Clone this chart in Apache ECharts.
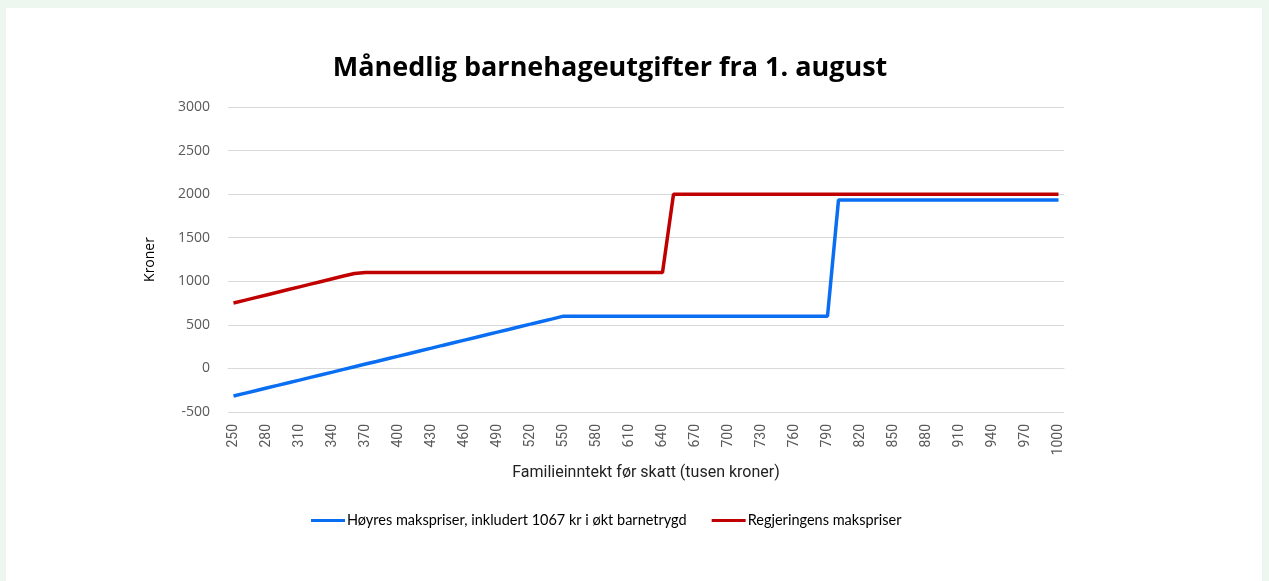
<!DOCTYPE html>
<html>
<head>
<meta charset="utf-8">
<script src="https://cdn.jsdelivr.net/npm/echarts@6/dist/echarts.min.js"></script>
<style>
  html, body { margin: 0; padding: 0; background: #eef6f0; }
  #panel { position: absolute; left: 6px; top: 8px; width: 1256px; height: 573px; background: #fff; }
  #main { position: absolute; left: 0; top: 0; width: 1269px; height: 581px; }
</style>
</head>
<body>
<div id="panel"></div>
<div id="main"></div>
<script type="text/javascript">
// inntekt (tusen kroner), 250 - 1000 i steg på 10
var incomes = ['250','260','270','280','290','300','310','320','330','340',
  '350','360','370','380','390','400','410','420','430','440',
  '450','460','470','480','490','500','510','520','530','540',
  '550','560','570','580','590','600','610','620','630','640',
  '650','660','670','680','690','700','710','720','730','740',
  '750','760','770','780','790','800','810','820','830','840',
  '850','860','870','880','890','900','910','920','930','940',
  '950','960','970','980','990','1000'];

// Høyres makspriser (inkl. 1067 kr barnetrygd)
var hoyre = [-317,-286,-256,-225,-195,-164,-134,-103,-72,-42,
  -11,19,50,80,111,141,172,203,233,264,
  294,325,355,386,417,447,478,508,539,569,
  600,600,600,600,600,600,600,600,600,600,
  600,600,600,600,600,600,600,600,600,600,
  600,600,600,600,600,1933,1933,1933,1933,1933,
  1933,1933,1933,1933,1933,1933,1933,1933,1933,1933,
  1933,1933,1933,1933,1933,1933];

// Regjeringens makspriser
var regjering = [750,781,812,843,874,905,936,967,998,1029,
  1060,1090,1100,1100,1100,1100,1100,1100,1100,1100,
  1100,1100,1100,1100,1100,1100,1100,1100,1100,1100,
  1100,1100,1100,1100,1100,1100,1100,1100,1100,1100,
  2000,2000,2000,2000,2000,2000,2000,2000,2000,2000,
  2000,2000,2000,2000,2000,2000,2000,2000,2000,2000,
  2000,2000,2000,2000,2000,2000,2000,2000,2000,2000,
  2000,2000,2000,2000,2000,2000];

var seriesNames = ['Høyres makspriser, inkludert 1067 kr i økt barnetrygd', 'Regjeringens makspriser'];

var myChart = echarts.init(document.getElementById('main'));

var option = {
  backgroundColor: 'transparent',
  animation: false,
  title: {
    text: 'Månedlig barnehageutgifter fra 1. august',
    left: 605,
    textAlign: 'center',
    top: 50,
    textStyle: {
      fontFamily: 'Open Sans',
      fontWeight: 'bold',
      fontSize: 27,
      color: '#000'
    }
  },
  legend: {
    left: 306,
    top: 508,
    icon: 'rect',
    itemWidth: 34,
    itemHeight: 3,
    itemGap: 25,
    data: seriesNames,
    textStyle: {
      fontFamily: 'Lato',
      fontSize: 14.5,
      color: '#000',
      padding: [0, 0, 0, -3]
    }
  },
  grid: {
    left: 228,
    right: 205,
    top: 107,
    bottom: 169
  },
  xAxis: {
    type: 'category',
    data: incomes,
    boundaryGap: true,
    name: 'Familieinntekt før skatt (tusen kroner)',
    nameLocation: 'middle',
    nameGap: 53,
    nameTextStyle: {
      fontFamily: 'Roboto',
      fontSize: 16,
      color: '#222'
    },
    axisLine: { lineStyle: { color: '#d9d9d9' } },
    axisTick: { show: false },
    axisLabel: {
      interval: 2,
      rotate: 90,
      margin: 12,
      fontFamily: 'Roboto',
      fontSize: 14,
      color: '#595959'
    }
  },
  yAxis: {
    type: 'value',
    min: -500,
    max: 3000,
    interval: 500,
    name: 'Kroner',
    nameLocation: 'middle',
    nameGap: 71,
    nameTextStyle: {
      fontFamily: 'Open Sans',
      fontSize: 14,
      color: '#000'
    },
    axisLine: { show: false },
    axisTick: { show: false },
    axisLabel: {
      margin: 18,
      fontFamily: 'Open Sans',
      fontSize: 14,
      color: '#595959',
      formatter: function (v) { return String(v); }
    },
    splitLine: { lineStyle: { color: '#d9d9d9' } }
  },
  series: [
    {
      name: seriesNames[0],
      type: 'line',
      data: hoyre,
      showSymbol: false,
      symbol: 'none',
      color: '#0a6ef2',
      lineStyle: { width: 3.5, color: '#0a6ef2' }
    },
    {
      name: seriesNames[1],
      type: 'line',
      data: regjering,
      showSymbol: false,
      symbol: 'none',
      color: '#c00000',
      lineStyle: { width: 3.5, color: '#c00000' }
    }
  ]
};

myChart.setOption(option);
</script>
</body>
</html>
